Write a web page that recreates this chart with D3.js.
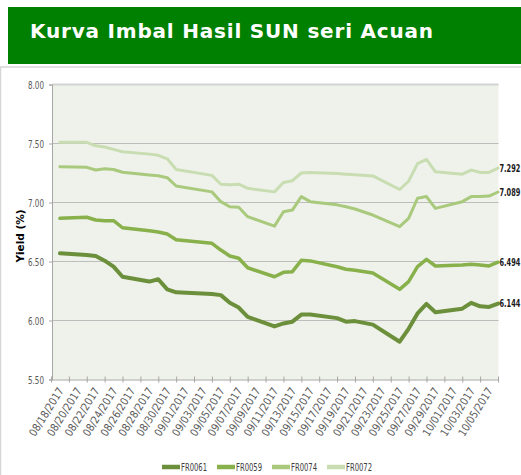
<!DOCTYPE html>
<html><head><meta charset="utf-8">
<script src="https://cdn.jsdelivr.net/npm/d3@7/dist/d3.min.js"></script>
<style>body{margin:0;background:#fff}svg{display:block}</style>
</head><body><svg id="c" width="521" height="475"></svg>
<script>
const dates = ["2017-08-18","2017-08-21","2017-08-22","2017-08-23","2017-08-24","2017-08-25","2017-08-28","2017-08-29","2017-08-30","2017-08-31",
"2017-09-04","2017-09-05","2017-09-06","2017-09-07","2017-09-08","2017-09-11","2017-09-12","2017-09-13","2017-09-14","2017-09-15",
"2017-09-18","2017-09-19","2017-09-20","2017-09-22","2017-09-25","2017-09-26","2017-09-27","2017-09-28","2017-09-29",
"2017-10-02","2017-10-03","2017-10-04","2017-10-05","2017-10-06"];
const fr0061 = [6.569,6.555,6.547,6.507,6.456,6.371,6.330,6.350,6.264,6.239,
6.225,6.215,6.150,6.110,6.030,5.950,5.975,5.990,6.050,6.050,
6.020,5.990,5.995,5.965,5.820,5.930,6.060,6.140,6.070,
6.100,6.150,6.120,6.115,6.144];
const fr0059 = [6.866,6.875,6.852,6.846,6.846,6.786,6.760,6.750,6.733,6.685,
6.654,6.597,6.547,6.527,6.447,6.371,6.408,6.414,6.510,6.505,
6.455,6.434,6.425,6.403,6.264,6.330,6.456,6.518,6.462,
6.470,6.476,6.470,6.462,6.494];
const fr0074 = [7.303,7.298,7.275,7.286,7.280,7.256,7.233,7.227,7.210,7.140,
7.090,7.007,6.964,6.960,6.880,6.800,6.922,6.936,7.050,7.007,
6.980,6.964,6.945,6.894,6.795,6.866,7.036,7.050,6.950,
7.007,7.050,7.050,7.055,7.089];
const fr0072 = [7.510,7.510,7.480,7.470,7.450,7.430,7.410,7.400,7.370,7.280,
7.230,7.155,7.150,7.155,7.120,7.090,7.170,7.185,7.250,7.255,
7.245,7.240,7.235,7.225,7.110,7.180,7.330,7.365,7.260,
7.240,7.275,7.255,7.255,7.292];
const seriesNames = ["FR0061","FR0059","FR0074","FR0072"];
const seriesValues = [fr0061, fr0059, fr0074, fr0072];
const seriesColors = ["#6b8f3b","#88b04b","#a9c97d","#c9ddb3"];
const seriesWidths = [4, 3.5, 3, 3];
const yTicks = [5.5, 6.0, 6.5, 7.0, 7.5, 8.0];
const titleText = "Kurva Imbal Hasil SUN seri Acuan";
const yTitle = "Yield (%)";

const parse = d3.timeParse("%Y-%m-%d");
const fmtDate = d3.timeFormat("%m/%d/%Y");
const svg = d3.select("#c");
const NARROW = "DejaVu Sans Condensed, sans-serif";

// title bar
svg.append("rect").attr("x",8).attr("y",7).attr("width",530).attr("height",57).attr("fill","#008000");
svg.append("text").attr("x",30).attr("y",38).attr("fill","#fff")
  .attr("font-family","DejaVu Sans, Verdana, sans-serif").attr("font-weight","bold").attr("font-size",20)
  .attr("letter-spacing",0.8)
  .text(titleText);
// panel border
svg.append("rect").attr("x",0.5).attr("y",67).attr("width",540).attr("height",420)
  .attr("fill","none").attr("stroke","#d6d6d6").attr("stroke-width",1.5);

const L = 52, R = 498.5, T = 84.5, B = 379.5;
const start = new Date(2017,7,17,12), end = new Date(2017,9,6,12);
const x = d3.scaleTime().domain([start,end]).range([51,498]);
const y = d3.scaleLinear().domain([5.5,8]).range([B,T]);

svg.append("rect").attr("x",L).attr("y",T).attr("width",R-L).attr("height",B-T).attr("fill","#eff2ea");

// gridlines
svg.append("g").selectAll("line").data(yTicks.filter(v=>v>5.5)).join("line")
  .attr("x1",L).attr("x2",R).attr("y1",d=>y(d)).attr("y2",d=>y(d))
  .attr("stroke",d=>d===8?"#d4d4d4":"#bdbdbd").attr("stroke-width",d=>d===8?2:1);

// y axis
const yAxis = d3.axisLeft(y).tickValues(yTicks).tickFormat(d3.format(".2f")).tickSize(3).tickPadding(5);
const gy = svg.append("g").attr("transform",`translate(${L},0)`).call(yAxis);
gy.select(".domain").attr("stroke","#a6a6a6");
gy.selectAll(".tick line").attr("stroke","#a6a6a6");
gy.selectAll("text").attr("fill","#595959").attr("font-size",11).attr("font-family",NARROW)
  .attr("textLength",16).attr("lengthAdjust","spacingAndGlyphs");

// x axis ticks (every 2 days from axis start)
const tickDates = d3.range(0,26).map(k=>d3.timeDay.offset(start,2*k));
const xAxis = d3.axisBottom(x).tickValues(tickDates).tickSizeInner(6).tickSizeOuter(0).tickFormat("");
const gx = svg.append("g").attr("transform",`translate(0,${B})`).call(xAxis);
gx.select(".domain").attr("stroke","#a6a6a6");
gx.selectAll(".tick line").attr("stroke","#a6a6a6").attr("y1",-3).attr("y2",3);

// x labels
const labelDates = d3.range(0,25).map(k=>d3.timeDay.offset(new Date(2017,7,18),2*k));
svg.append("g").selectAll("text").data(labelDates).join("text")
  .attr("transform",d=>`translate(${x(d3.timeHour.offset(d,12))+1},${B+9}) rotate(-58)`)
  .attr("text-anchor","end").attr("dy","0.35em")
  .attr("fill","#595959").attr("font-size",11).attr("font-family",NARROW)
  .attr("textLength",55).attr("lengthAdjust","spacingAndGlyphs")
  .text(d=>fmtDate(d));

// y title
svg.append("text").attr("transform",`translate(24,236) rotate(-90)`).attr("text-anchor","middle")
  .attr("font-family","DejaVu Sans, sans-serif").attr("font-weight","bold").attr("font-size",10.5)
  .attr("fill","#000").text(yTitle);

// lines
const line = d3.line().x((d,i)=>x(d3.timeHour.offset(parse(dates[i]),12))).y(d=>y(d));
seriesValues.forEach((vals,si)=>{
  svg.append("path").datum(vals).attr("d",line).attr("fill","none")
    .attr("stroke",seriesColors[si]).attr("stroke-width",seriesWidths[si])
    .attr("stroke-linejoin","round").attr("stroke-linecap","round");
});

// end labels (horizontally condensed)
const fmt3 = d3.format(".3f");
svg.append("g").selectAll("g").data(seriesValues).join("g")
  .attr("transform",d=>`translate(${R+1},${y(d[d.length-1])}) scale(0.7,1)`)
  .append("text").attr("dy","0.35em")
  .attr("font-family",NARROW).attr("font-weight","bold").attr("font-size",10.5).attr("fill","#1a1a1a")
  .text(d=>fmt3(d[d.length-1]));

// legend
const legX = [162, 217, 272, 327];
const lg = svg.append("g").selectAll("g").data(seriesNames).join("g")
  .attr("transform",(d,i)=>`translate(${legX[i]},467)`);
lg.append("line").attr("x1",0).attr("x2",18).attr("y1",0).attr("y2",0)
  .attr("stroke",(d,i)=>seriesColors[i]).attr("stroke-width",4.5);
lg.append("text").attr("x",19).attr("dy","0.35em").attr("font-size",10.5).attr("fill","#404040")
  .attr("font-family",NARROW).attr("textLength",26).attr("lengthAdjust","spacingAndGlyphs").text(d=>d);
</script></body></html>
